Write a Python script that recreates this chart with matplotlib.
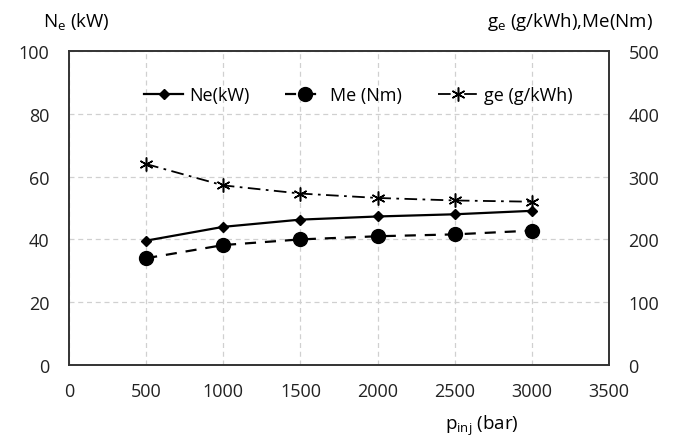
import matplotlib
matplotlib.use("Agg")
import matplotlib.pyplot as plt

plt.rcParams['font.family'] = ['Open Sans', 'DejaVu Sans']
plt.rcParams['mathtext.fontset'] = 'custom'
plt.rcParams['mathtext.rm'] = 'Open Sans'

p_inj = [500, 1000, 1500, 2000, 2500, 3000]
ne_kw = [39.6, 44.0, 46.3, 47.3, 48.0, 49.1]
me_nm = [170, 191, 200, 205, 208, 214]
ge_gkwh = [320, 286, 273, 266, 262, 260]

fig = plt.figure(figsize=(6.76, 4.39), dpi=100)
ax = fig.add_axes([69/676, 1-366/439, (609-69)/676, (366-52)/439])
ax2 = ax.twinx()

ax.set_xlim(0, 3500)
ax.set_ylim(0, 100)
ax2.set_ylim(0, 500)
ax.set_xticks(range(0, 3501, 500))
ax.set_yticks(range(0, 101, 20))
ax2.set_yticks(range(0, 501, 100))
ax.grid(True, color='#d0d0d0', linestyle=(0, (4, 3)), linewidth=0.9)
ax.set_axisbelow(True)

for a in (ax, ax2):
    for s in a.spines.values():
        s.set_color('#333333')
        s.set_linewidth(1.2)
ax.tick_params(axis='y', length=0, labelsize=13, pad=14, labelcolor='#222222')
ax.tick_params(axis='x', length=0, labelsize=13, pad=12, labelcolor='#222222')
ax2.tick_params(axis='y', length=0, labelsize=13, pad=14, labelcolor='#222222')

l1, = ax.plot(p_inj, ne_kw, color='black', linestyle='-', linewidth=1.6,
              marker='D', markersize=5, label='Ne(kW)')
l2, = ax2.plot(p_inj, me_nm, color='black', linestyle=(0, (5, 4)), linewidth=1.6,
               marker='o', markersize=10, label='Me (Nm)')
l3, = ax2.plot(p_inj, ge_gkwh, color='black', linestyle=(0, (7, 3, 1.5, 3)), linewidth=1.3,
               marker=(6, 2, 0), markersize=10, markeredgewidth=1.1, label='ge (g/kWh)')

leg = ax.legend(handles=[l1, l2, l3], loc='upper center', bbox_to_anchor=(0.535, 0.94),
                ncol=3, frameon=False, fontsize=13, handlelength=2.2, columnspacing=2.0,
                handletextpad=0.3)

fig.text(76/676, 1-22/439, r'N$_\mathregular{e}$ (kW)', ha='center', va='center', fontsize=13.5)
fig.text(570/676, 1-22/439, r'g$_\mathregular{e}$ (g/kWh),Me(Nm)', ha='center', va='center', fontsize=13.5)
fig.text(482/676, 1-438/439, r'p$_\mathregular{inj}$ (bar)', ha='center', va='bottom', fontsize=13.5)

fig.savefig('out.png', dpi=100)
